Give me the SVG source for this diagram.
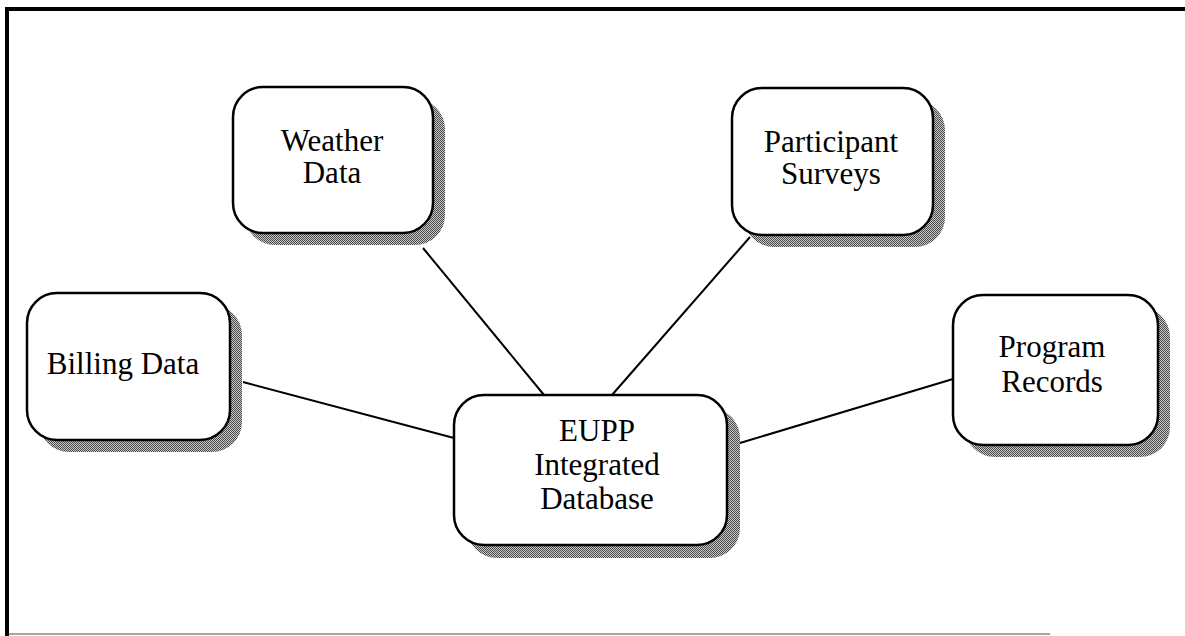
<svg xmlns="http://www.w3.org/2000/svg" width="1185" height="636" viewBox="0 0 1185 636">
<defs>
<pattern id="dither" width="2" height="2" patternUnits="userSpaceOnUse">
<rect width="2" height="2" fill="#c8c8c8"/>
<rect width="1" height="1" fill="#4a4a4a"/>
<rect x="1" y="1" width="1" height="1" fill="#4a4a4a"/>
</pattern>
</defs>
<style>
.shadow{fill:url(#dither);stroke:none}
.box{fill:#fff;stroke:#000;stroke-width:2.5}
.lbl{font-family:"Liberation Serif","Times New Roman",serif;font-size:31px;fill:#000;text-anchor:middle}
.conn{stroke:#000;stroke-width:2;fill:none}
</style>
<rect width="1185" height="636" fill="#fff"/>
<g id="frame">
<line x1="7" y1="7" x2="7" y2="636" stroke="#000" stroke-width="4"/>
<line x1="5" y1="9" x2="1185" y2="9" stroke="#000" stroke-width="4"/>
<line x1="9" y1="634" x2="1050" y2="634" stroke="#888" stroke-width="1.5"/>
</g>
<g id="connectors">
<line class="conn" x1="243" y1="382" x2="454" y2="438"/>
<line class="conn" x1="423" y1="248" x2="544" y2="395"/>
<line class="conn" x1="750" y1="237" x2="612" y2="395"/>
<line class="conn" x1="740" y1="443" x2="953" y2="379"/>
</g>
<g id="billing">
<rect class="shadow" x="39" y="305" width="203" height="147" rx="30"/>
<rect class="box" x="27" y="293" width="203" height="147" rx="30"/>
<text class="lbl" x="123" y="374">Billing Data</text>
</g>
<g id="weather">
<rect class="shadow" x="245" y="99" width="200" height="146" rx="30"/>
<rect class="box" x="233" y="87" width="200" height="146" rx="30"/>
<text class="lbl" x="332" y="151">Weather</text>
<text class="lbl" x="332" y="183">Data</text>
</g>
<g id="participant">
<rect class="shadow" x="744" y="100" width="201" height="147" rx="30"/>
<rect class="box" x="732" y="88" width="201" height="147" rx="30"/>
<text class="lbl" x="831" y="152">Participant</text>
<text class="lbl" x="831" y="184">Surveys</text>
</g>
<g id="program">
<rect class="shadow" x="965" y="307" width="205" height="150" rx="30"/>
<rect class="box" x="953" y="295" width="205" height="150" rx="30"/>
<text class="lbl" x="1052" y="357">Program</text>
<text class="lbl" x="1052" y="392">Records</text>
</g>
<g id="eupp">
<rect class="shadow" x="467" y="408" width="273" height="150" rx="30"/>
<rect class="box" x="454" y="395" width="273" height="150" rx="30"/>
<text class="lbl" x="597" y="441">EUPP</text>
<text class="lbl" x="597" y="475">Integrated</text>
<text class="lbl" x="597" y="509">Database</text>
</g>
</svg>
